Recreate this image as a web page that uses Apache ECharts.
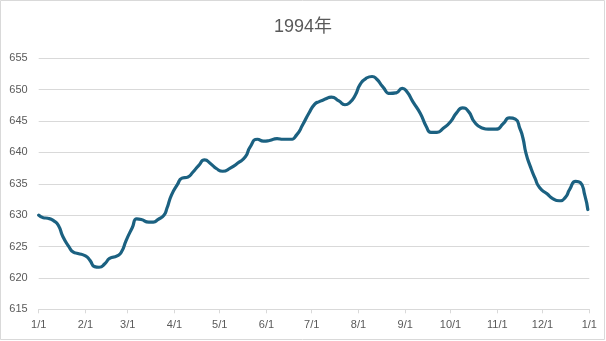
<!DOCTYPE html>
<html>
<head>
<meta charset="utf-8">
<script src="https://cdn.jsdelivr.net/npm/echarts@6/dist/echarts.min.js"></script>
<style>
html,body{margin:0;padding:0;background:#fff;}
#chart{width:606px;height:341px;}
</style>
</head>
<body>
<div id="chart"></div>
<script>
const titleText = '1994年';
const dates = [
  '1994-01-01','1994-01-04','1994-01-07','1994-01-11','1994-01-14','1994-01-17','1994-01-21','1994-01-24','1994-01-27',
  '1994-02-01','1994-02-04','1994-02-07','1994-02-10','1994-02-14','1994-02-17','1994-02-22','1994-02-25','1994-02-28',
  '1994-03-04','1994-03-07','1994-03-10','1994-03-15','1994-03-18','1994-03-21','1994-03-25','1994-03-27','1994-03-30',
  '1994-04-03','1994-04-06','1994-04-10','1994-04-13','1994-04-17','1994-04-21','1994-04-25','1994-04-29',
  '1994-05-03','1994-05-08','1994-05-13','1994-05-18','1994-05-21','1994-05-26','1994-05-30',
  '1994-06-03','1994-06-08','1994-06-12','1994-06-17','1994-06-21','1994-06-25','1994-06-29',
  '1994-07-03','1994-07-06','1994-07-10','1994-07-14','1994-07-19','1994-07-23','1994-07-26','1994-07-30',
  '1994-08-02','1994-08-06','1994-08-10','1994-08-13','1994-08-17','1994-08-22','1994-08-26','1994-08-30',
  '1994-09-02','1994-09-06','1994-09-11','1994-09-15','1994-09-18','1994-09-22','1994-09-26',
  '1994-10-01','1994-10-05','1994-10-09','1994-10-13','1994-10-17','1994-10-22','1994-10-26','1994-10-31',
  '1994-11-05','1994-11-09','1994-11-13','1994-11-16','1994-11-18','1994-11-20','1994-11-23','1994-11-26','1994-11-29',
  '1994-12-04','1994-12-08','1994-12-12','1994-12-16','1994-12-19','1994-12-23','1994-12-26','1994-12-29','1994-12-31'
];
const values = [
  630.0,629.6,629.5,629.1,628.4,626.6,625.0,624.1,623.9,
  623.5,622.8,621.8,621.7,622.3,623.1,623.5,624.2,626.0,
  628.0,629.4,629.3,628.9,628.9,629.3,630.0,631.1,633.2,
  634.9,635.9,636.1,636.8,637.9,638.8,638.2,637.4,
  637.0,637.5,638.3,639.3,640.8,642.1,641.8,
  641.9,642.2,642.1,642.1,642.8,644.4,646.2,
  647.7,648.1,648.5,648.8,648.2,647.6,647.9,649.2,
  650.8,651.8,652.1,651.7,650.5,649.4,649.5,650.2,
  649.7,648.1,646.2,644.1,643.2,643.2,643.8,
  644.9,646.3,647.1,646.5,644.8,643.9,643.7,643.7,
  644.6,645.5,645.3,643.8,642.3,639.9,637.7,635.9,634.4,
  633.4,632.6,632.3,632.8,634.1,635.4,635.2,633.2,630.9
];
const yMin = 615, yMax = 655, yStep = 5;
const xMin = '1994-01-01', xMax = '1995-01-01';

const chart = echarts.init(document.getElementById('chart'), null, {renderer:'canvas'});
const font = 'Liberation Sans, Arial, sans-serif';
chart.setOption({
  animation: false,
  backgroundColor: '#fff',
  title: {
    text: titleText, left: 'center', top: 13,
    textStyle: {fontFamily: "'Liberation Sans','Noto Sans CJK SC',sans-serif", fontSize: 18, fontWeight: 'normal', color: '#595959'}
  },
  graphic: [{
    type: 'rect', silent: true,
    shape: {x: 0.5, y: 0.5, width: 604, height: 339},
    style: {fill: 'none', stroke: '#d9d9d9', lineWidth: 1}
  }],
  grid: {left: 38.7, right: 16.7, top: 58.3, bottom: 31.7, containLabel: false},
  xAxis: {
    type: 'time',
    min: xMin, max: xMax,
    splitNumber: 12,
    minInterval: 28 * 86400000,
    maxInterval: 31 * 86400000,
    axisLine: {lineStyle: {color: '#d9d9d9', width: 1}},
    axisTick: {show: true, length: 4, lineStyle: {color: '#d9d9d9'}},
    splitLine: {show: false},
    axisLabel: {
      fontFamily: font, fontSize: 11, color: '#595959', margin: 10,
      showMinLabel: true, showMaxLabel: true, hideOverlap: false,
      formatter: function (v) { const d = new Date(v); return (d.getMonth() + 1) + '/' + d.getDate(); }
    }
  },
  yAxis: {
    type: 'value', min: yMin, max: yMax, interval: yStep,
    axisLine: {show: false}, axisTick: {show: false},
    splitLine: {lineStyle: {color: '#d9d9d9', width: 1}},
    axisLabel: {fontFamily: font, fontSize: 11, color: '#595959', margin: 11}
  },
  series: [{
    type: 'line',
    data: dates.map((d, i) => [d, values[i]]),
    smooth: 0.6,
    showSymbol: false,
    lineStyle: {color: '#1b6181', width: 3.2, cap: 'round', join: 'round'},
    itemStyle: {color: '#1b6181'}
  }]
});
</script>
</body>
</html>
